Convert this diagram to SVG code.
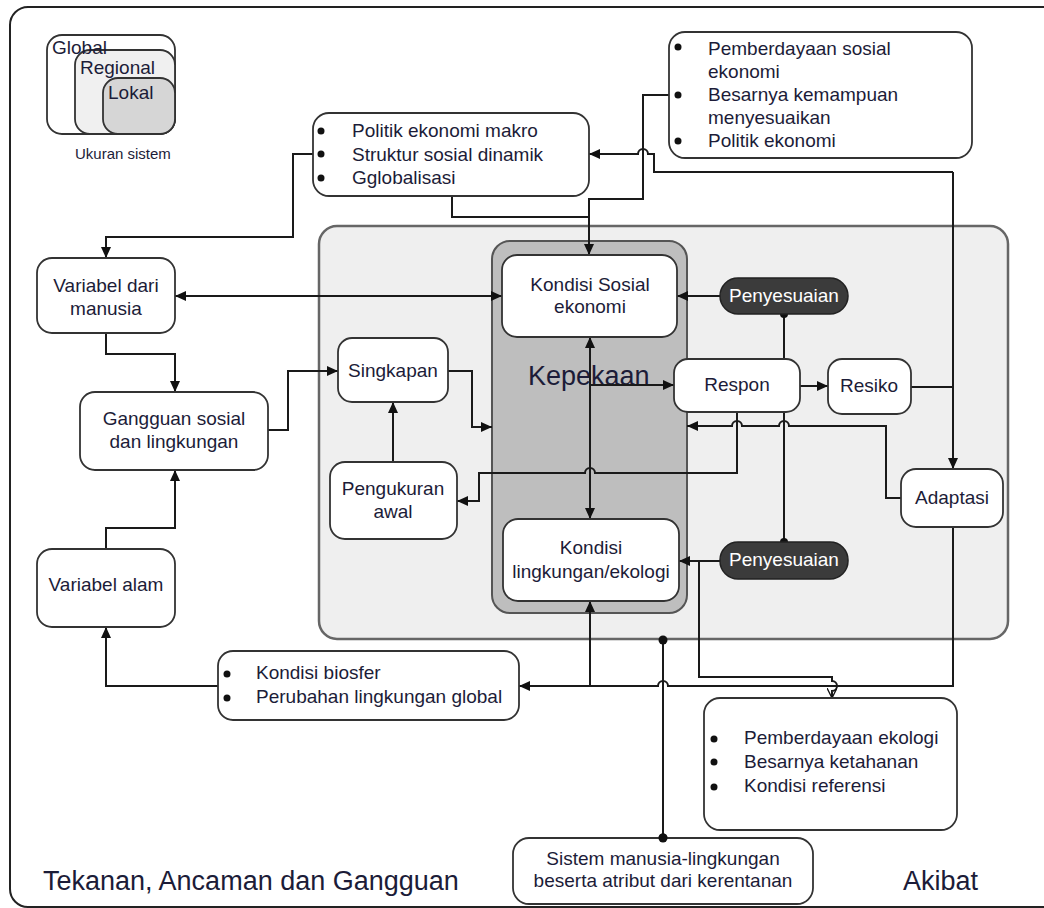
<svg xmlns="http://www.w3.org/2000/svg" width="1044" height="908" viewBox="0 0 1044 908">
<defs>
<marker id="arr" viewBox="0 0 11 10" refX="11" refY="5" markerWidth="11" markerHeight="10" markerUnits="userSpaceOnUse" orient="auto-start-reverse"><path d="M0,0 L11,5 L0,10 z" fill="#111"/></marker>
<marker id="open" viewBox="0 0 11 10" refX="10" refY="5" markerWidth="11" markerHeight="10" markerUnits="userSpaceOnUse" orient="auto"><path d="M0,0 L10,5 L0,10" fill="none" stroke="#111" stroke-width="1.3"/></marker>
</defs>
<style>
.box{fill:#fff;stroke:#333;stroke-width:1.8}
.t{font-family:"Liberation Sans",Arial,sans-serif;font-size:19px;fill:#1c1c38}
.c{text-anchor:middle}
.ln{fill:none;stroke:#1a1a1a;stroke-width:2}
.a{marker-end:url(#arr)}
.dot{fill:#111}
.pill{fill:#3b3b3b;stroke:#222;stroke-width:1.5}
.w{fill:#fff}
.big{font-size:27px}
</style>
<rect width="1044" height="908" fill="#fff"/>
<rect id="frame" x="10" y="7" width="1052" height="900" rx="18" fill="none" stroke="#222" stroke-width="2"/>

<g id="scale">
<rect x="47" y="35" width="128" height="99" rx="15" fill="#fff" stroke="#333" stroke-width="1.8"/>
<rect x="75" y="50" width="100" height="84" rx="15" fill="#f0f0f0" stroke="#333" stroke-width="1.8"/>
<rect x="103" y="78" width="72" height="56" rx="15" fill="#d6d6d6" stroke="#333" stroke-width="1.8"/>
<text class="t" x="52" y="54">Global</text>
<text class="t" x="80" y="74">Regional</text>
<text class="t" x="108" y="99">Lokal</text>
<text class="t" x="75" y="159" style="font-size:15px">Ukuran sistem</text>
</g>

<g id="panel-sistem">
<rect x="319" y="226" width="689" height="413" rx="18" fill="#efefef" stroke="#666" stroke-width="2.5"/>
</g>
<g id="panel-kepekaan">
<rect x="492" y="241" width="195" height="372" rx="18" fill="#bebebe" stroke="#555" stroke-width="2"/>
<text class="t big" x="528" y="385">Kepekaan</text>
</g>

<g id="connectors">
<path class="ln a" d="M313,154 H293 V237 H106 V258"/>
<path class="ln a" d="M669,95 H643 V199 H589 V255"/>
<path class="ln" d="M452,196 V217 H589"/>
<path class="ln" d="M911,387 H953"/>
<path class="ln a" d="M953,172 V469"/>
<path class="ln a" d="M953,172 H654 V154 H648 A5,5 0 0 0 638,154 H589"/>
<path class="ln a" d="M175,296 H502" marker-start="url(#arr)"/>
<path class="ln a" d="M720,296 H677"/>
<path class="ln" d="M784,314 V359"/>
<circle class="dot" cx="784" cy="314" r="4"/>
<path class="ln a" d="M106,333 V354 H175 V392"/>
<path class="ln a" d="M268,430 H288 V371 H338"/>
<path class="ln a" d="M448,371 H472 V427 H492"/>
<path class="ln a" d="M393,462 V402"/>
<path class="ln a" d="M590,337 V519" marker-start="url(#arr)"/>
<path class="ln a" d="M590,385 H674"/>
<path class="ln a" d="M800,386 H828"/>
<path class="ln a" d="M737,412 V473 H595 A5,5 0 0 0 585,473 H479 V501 H457"/>
<path class="ln" d="M784,412 V542"/>
<circle class="dot" cx="784" cy="542" r="4"/>
<path class="ln a" d="M901,498 H886 V426 H789 A5,5 0 0 0 779,426 H742 A5,5 0 0 0 732,426 H687"/>
<path class="ln a" d="M720,561 H679"/>
<path class="ln" d="M699,561 V677 H832 V681 A5,5 0 0 1 832,691 V698" marker-end="url(#open)"/>
<path class="ln a" d="M953,527 V686 H668 A5,5 0 0 0 658,686 H519"/>
<path class="ln a" d="M590,686 V601"/>
<path class="ln a" d="M218,686 H106 V627"/>
<path class="ln a" d="M106,549 V528 H175 V470"/>
<path class="ln" d="M663,838 V640"/>
<circle class="dot" cx="663" cy="640" r="4.5"/>
<circle class="dot" cx="663" cy="838" r="4.5"/>
</g>

<g id="politik">
<rect class="box" x="313" y="113" width="276" height="83" rx="16"/>
<circle class="dot" cx="321" cy="131" r="3.5"/><circle class="dot" cx="321" cy="154" r="3.5"/><circle class="dot" cx="321" cy="178" r="3.5"/>
<text class="t" x="352" y="137">Politik ekonomi makro</text>
<text class="t" x="352" y="161">Struktur sosial dinamik</text>
<text class="t" x="352" y="184">Gglobalisasi</text>
</g>

<g id="pemberdayaan-sosial">
<rect class="box" x="669" y="32" width="303" height="126" rx="16"/>
<circle class="dot" cx="678" cy="47" r="3.5"/><circle class="dot" cx="678" cy="95" r="3.5"/><circle class="dot" cx="678" cy="141" r="3.5"/>
<text class="t" x="708" y="55">Pemberdayaan sosial</text>
<text class="t" x="708" y="78">ekonomi</text>
<text class="t" x="708" y="101">Besarnya kemampuan</text>
<text class="t" x="708" y="124">menyesuaikan</text>
<text class="t" x="708" y="147">Politik ekonomi</text>
</g>

<g id="variabel-manusia">
<rect class="box" x="37" y="258" width="138" height="75" rx="15"/>
<text class="t c" x="106" y="292">Variabel dari</text>
<text class="t c" x="106" y="315">manusia</text>
</g>

<g id="gangguan">
<rect class="box" x="80" y="392" width="188" height="78" rx="15"/>
<text class="t c" x="174" y="425">Gangguan sosial</text>
<text class="t c" x="174" y="448">dan lingkungan</text>
</g>

<g id="variabel-alam">
<rect class="box" x="37" y="549" width="138" height="78" rx="15"/>
<text class="t c" x="106" y="591">Variabel alam</text>
</g>

<g id="singkapan">
<rect class="box" x="338" y="338" width="110" height="64" rx="14"/>
<text class="t c" x="393" y="377">Singkapan</text>
</g>

<g id="pengukuran">
<rect class="box" x="330" y="462" width="127" height="77" rx="15"/>
<text class="t c" x="393" y="495">Pengukuran</text>
<text class="t c" x="393" y="518">awal</text>
</g>

<g id="kondisi-sosial">
<rect class="box" x="502" y="255" width="175" height="82" rx="15"/>
<text class="t c" x="590" y="291">Kondisi Sosial</text>
<text class="t c" x="590" y="313">ekonomi</text>
</g>

<g id="kondisi-lingkungan">
<rect class="box" x="503" y="519" width="176" height="82" rx="15"/>
<text class="t c" x="591" y="554">Kondisi</text>
<text class="t c" x="591" y="578">lingkungan/ekologi</text>
</g>

<g id="respon">
<rect class="box" x="674" y="359" width="126" height="53" rx="14"/>
<text class="t c" x="737" y="391">Respon</text>
</g>

<g id="resiko">
<rect class="box" x="828" y="359" width="83" height="55" rx="14"/>
<text class="t c" x="869" y="392">Resiko</text>
</g>

<g id="penyesuaian-1">
<rect class="pill" x="720" y="278" width="128" height="36" rx="18"/>
<text class="t c w" x="784" y="302">Penyesuaian</text>
</g>

<g id="penyesuaian-2">
<rect class="pill" x="720" y="542" width="128" height="37" rx="18"/>
<text class="t c w" x="784" y="566">Penyesuaian</text>
</g>

<g id="adaptasi">
<rect class="box" x="901" y="469" width="102" height="58" rx="15"/>
<text class="t c" x="952" y="504">Adaptasi</text>
</g>

<g id="biosfer">
<rect class="box" x="218" y="651" width="301" height="69" rx="15"/>
<circle class="dot" cx="227" cy="674" r="3.5"/><circle class="dot" cx="227" cy="698" r="3.5"/>
<text class="t" x="256" y="679">Kondisi biosfer</text>
<text class="t" x="256" y="703">Perubahan lingkungan global</text>
</g>

<g id="pemberdayaan-ekologi">
<rect class="box" x="704" y="698" width="253" height="132" rx="16"/>
<circle class="dot" cx="714" cy="739" r="3.5"/><circle class="dot" cx="714" cy="762" r="3.5"/><circle class="dot" cx="714" cy="787" r="3.5"/>
<text class="t" x="744" y="744">Pemberdayaan ekologi</text>
<text class="t" x="744" y="768">Besarnya ketahanan</text>
<text class="t" x="744" y="792">Kondisi referensi</text>
</g>

<g id="sistem">
<rect class="box" x="513" y="838" width="300" height="66" rx="16"/>
<text class="t c" x="663" y="865">Sistem manusia-lingkungan</text>
<text class="t c" x="663" y="887">beserta atribut dari kerentanan</text>
</g>
<circle class="dot" cx="663" cy="838" r="4.5"/>

<text class="t big" x="43" y="890">Tekanan, Ancaman dan Gangguan</text>
<text class="t big" x="903" y="890">Akibat</text>
</svg>
